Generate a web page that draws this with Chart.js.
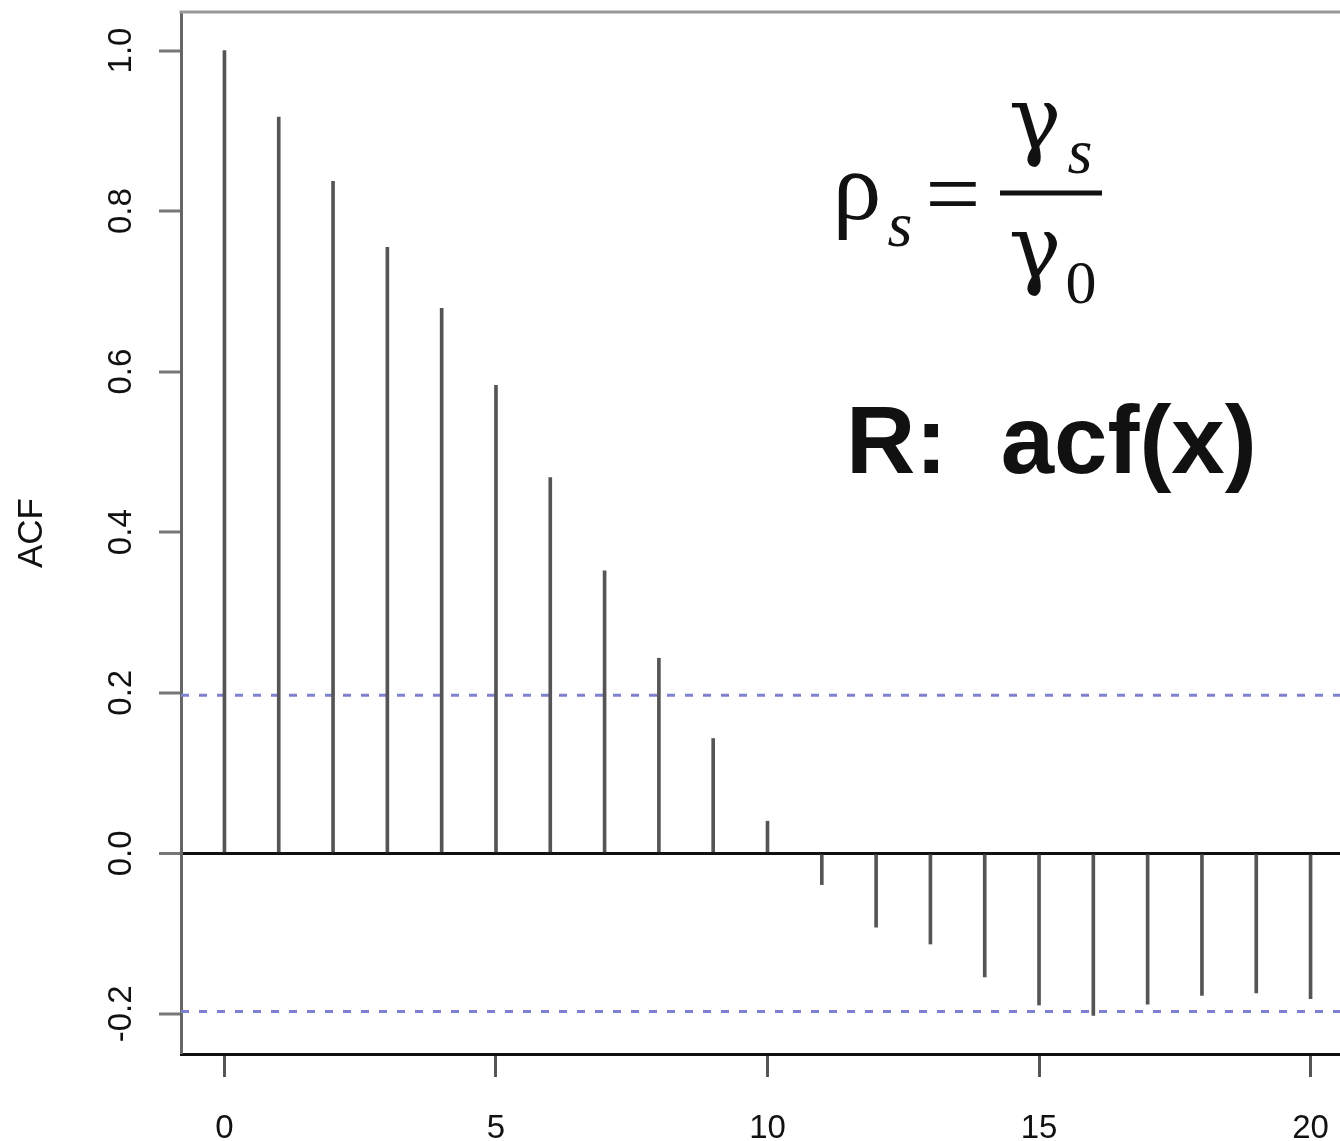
<!DOCTYPE html>
<html>
<head>
<meta charset="utf-8">
<title>ACF</title>
<script src="https://cdn.jsdelivr.net/npm/chart.js@4.4.1/dist/chart.umd.min.js"></script>
<style>
  html, body { margin: 0; padding: 0; background: #fff; overflow: hidden; }
  #wrap { position: relative; width: 1360px; height: 1141px; }
</style>
</head>
<body>
<div id="wrap"><canvas id="acfChart" width="1360" height="1141"></canvas></div>
<script>
'use strict';

// sample autocorrelation by lag
var lags = [0, 1, 2, 3, 4, 5, 6, 7, 8, 9, 10, 11, 12, 13, 14, 15, 16, 17, 18, 19, 20];
var acfValues = [1.000, 0.917, 0.837, 0.755, 0.679, 0.583, 0.468, 0.352, 0.243, 0.143, 0.040,
                 -0.039, -0.092, -0.113, -0.154, -0.189, -0.202, -0.188, -0.177, -0.174, -0.181];
var confBound = 0.197;   // approx 1.96 / sqrt(n)

var xTicks = [0, 5, 10, 15, 20];
var yTicks = [-0.2, 0.0, 0.2, 0.4, 0.6, 0.8, 1.0];
var xRange = [-0.8, 20.8];
var yRange = [-0.25, 1.048];

var tickFont = { family: 'Liberation Sans', size: 33 };

// labels sticking out past the ends shouldn't push the plot box in
function noEdgePadding(scale) {
  scale.paddingTop = 0;
  scale.paddingBottom = 0;
  scale.paddingLeft = 0;
  scale.paddingRight = 0;
}

// dashed significance bounds and the top edge of the box
var boundsPlugin = {
  id: 'bounds',
  beforeDatasetsDraw: function (chart) {
    var ctx = chart.ctx, area = chart.chartArea, y = chart.scales.y;
    ctx.save();
    ctx.strokeStyle = '#8080d0';
    ctx.lineWidth = 3;
    ctx.setLineDash([8, 10]);
    [confBound, -confBound].forEach(function (v) {
      var py = y.getPixelForValue(v);
      ctx.beginPath();
      ctx.moveTo(area.left, py);
      ctx.lineTo(area.right, py);
      ctx.stroke();
    });
    ctx.setLineDash([]);
    ctx.strokeStyle = '#999';
    ctx.beginPath();
    ctx.moveTo(area.left - 1.5, area.top);
    ctx.lineTo(area.right, area.top);
    ctx.stroke();
    ctx.restore();
  }
};

// formula and caption text
var notesPlugin = {
  id: 'notes',
  afterDraw: function (chart) {
    var ctx = chart.ctx;
    ctx.save();
    ctx.fillStyle = '#111';
    ctx.textAlign = 'center';
    ctx.textBaseline = 'alphabetic';

    ctx.font = '98px "Liberation Serif"';
    ctx.fillText('\u03c1', 857, 219);
    ctx.fillText('=', 953, 226);
    ctx.font = '88px "DejaVu Serif"';
    ctx.fillText('\u03b3', 1035, 149);
    ctx.fillText('\u03b3', 1035, 278);

    ctx.font = 'italic 64px "Liberation Serif"';
    ctx.fillText('s', 900, 246);
    ctx.fillText('s', 1080, 173);
    ctx.font = '62px "Liberation Serif"';
    ctx.fillText('0', 1081, 303);

    ctx.fillRect(1000, 190.5, 102, 5);

    ctx.textAlign = 'left';
    ctx.font = 'bold 96px "Liberation Sans"';
    ctx.fillText('R:  acf(x)', 846, 473);
    ctx.restore();
  }
};

var ctx = document.getElementById('acfChart').getContext('2d');
var acfChart = new Chart(ctx, {
  type: 'bar',
  data: {
    datasets: [{
      label: 'ACF',
      data: lags.map(function (lag, i) { return { x: lag, y: acfValues[i] }; }),
      backgroundColor: '#555',
      borderWidth: 0,
      barThickness: 3
    }]
  },
  options: {
    responsive: false,
    animation: false,
    layout: { padding: { top: 12, right: 6, left: 0, bottom: 0 } },
    plugins: {
      legend: { display: false },
      tooltip: { enabled: false }
    },
    scales: {
      x: {
        type: 'linear',
        min: xRange[0],
        max: xRange[1],
        offset: false,
        afterBuildTicks: function (scale) {
          scale.ticks = xTicks.map(function (v) { return { value: v }; });
        },
        afterFit: function (scale) { scale.height = 87; noEdgePadding(scale); },
        grid: { offset: false, drawOnChartArea: false, tickLength: 23, tickColor: '#555', tickWidth: 3 },
        border: { color: '#111', width: 3 },
        ticks: {
          font: tickFont,
          color: '#111',
          padding: 32,
          maxRotation: 0,
          autoSkip: false,
          callback: function (v) { return String(v); }
        }
      },
      y: {
        min: yRange[0],
        max: yRange[1],
        afterBuildTicks: function (scale) {
          scale.ticks = yTicks.map(function (v) { return { value: v }; });
        },
        afterFit: function (scale) { scale.width = 181; noEdgePadding(scale); },
        grid: {
          color: function (c) { return c.tick && c.tick.value === 0 ? '#111' : 'rgba(0,0,0,0)'; },
          lineWidth: function (c) { return c.tick && c.tick.value === 0 ? 3 : 0; },
          tickLength: 22,
          tickColor: '#777',
          tickWidth: 3
        },
        border: { color: '#666', width: 3 },
        ticks: {
          font: tickFont,
          color: '#111',
          minRotation: 90,
          maxRotation: 90,
          crossAlign: 'center',
          padding: 9,
          autoSkip: false,
          callback: function (v) { return v.toFixed(1); }
        },
        title: {
          display: true,
          text: 'ACF',
          color: '#111',
          font: { family: 'Liberation Sans', size: 35 },
          padding: { top: 11, bottom: 0 }
        }
      }
    }
  },
  plugins: [boundsPlugin, notesPlugin]
});
</script>
</body>
</html>
